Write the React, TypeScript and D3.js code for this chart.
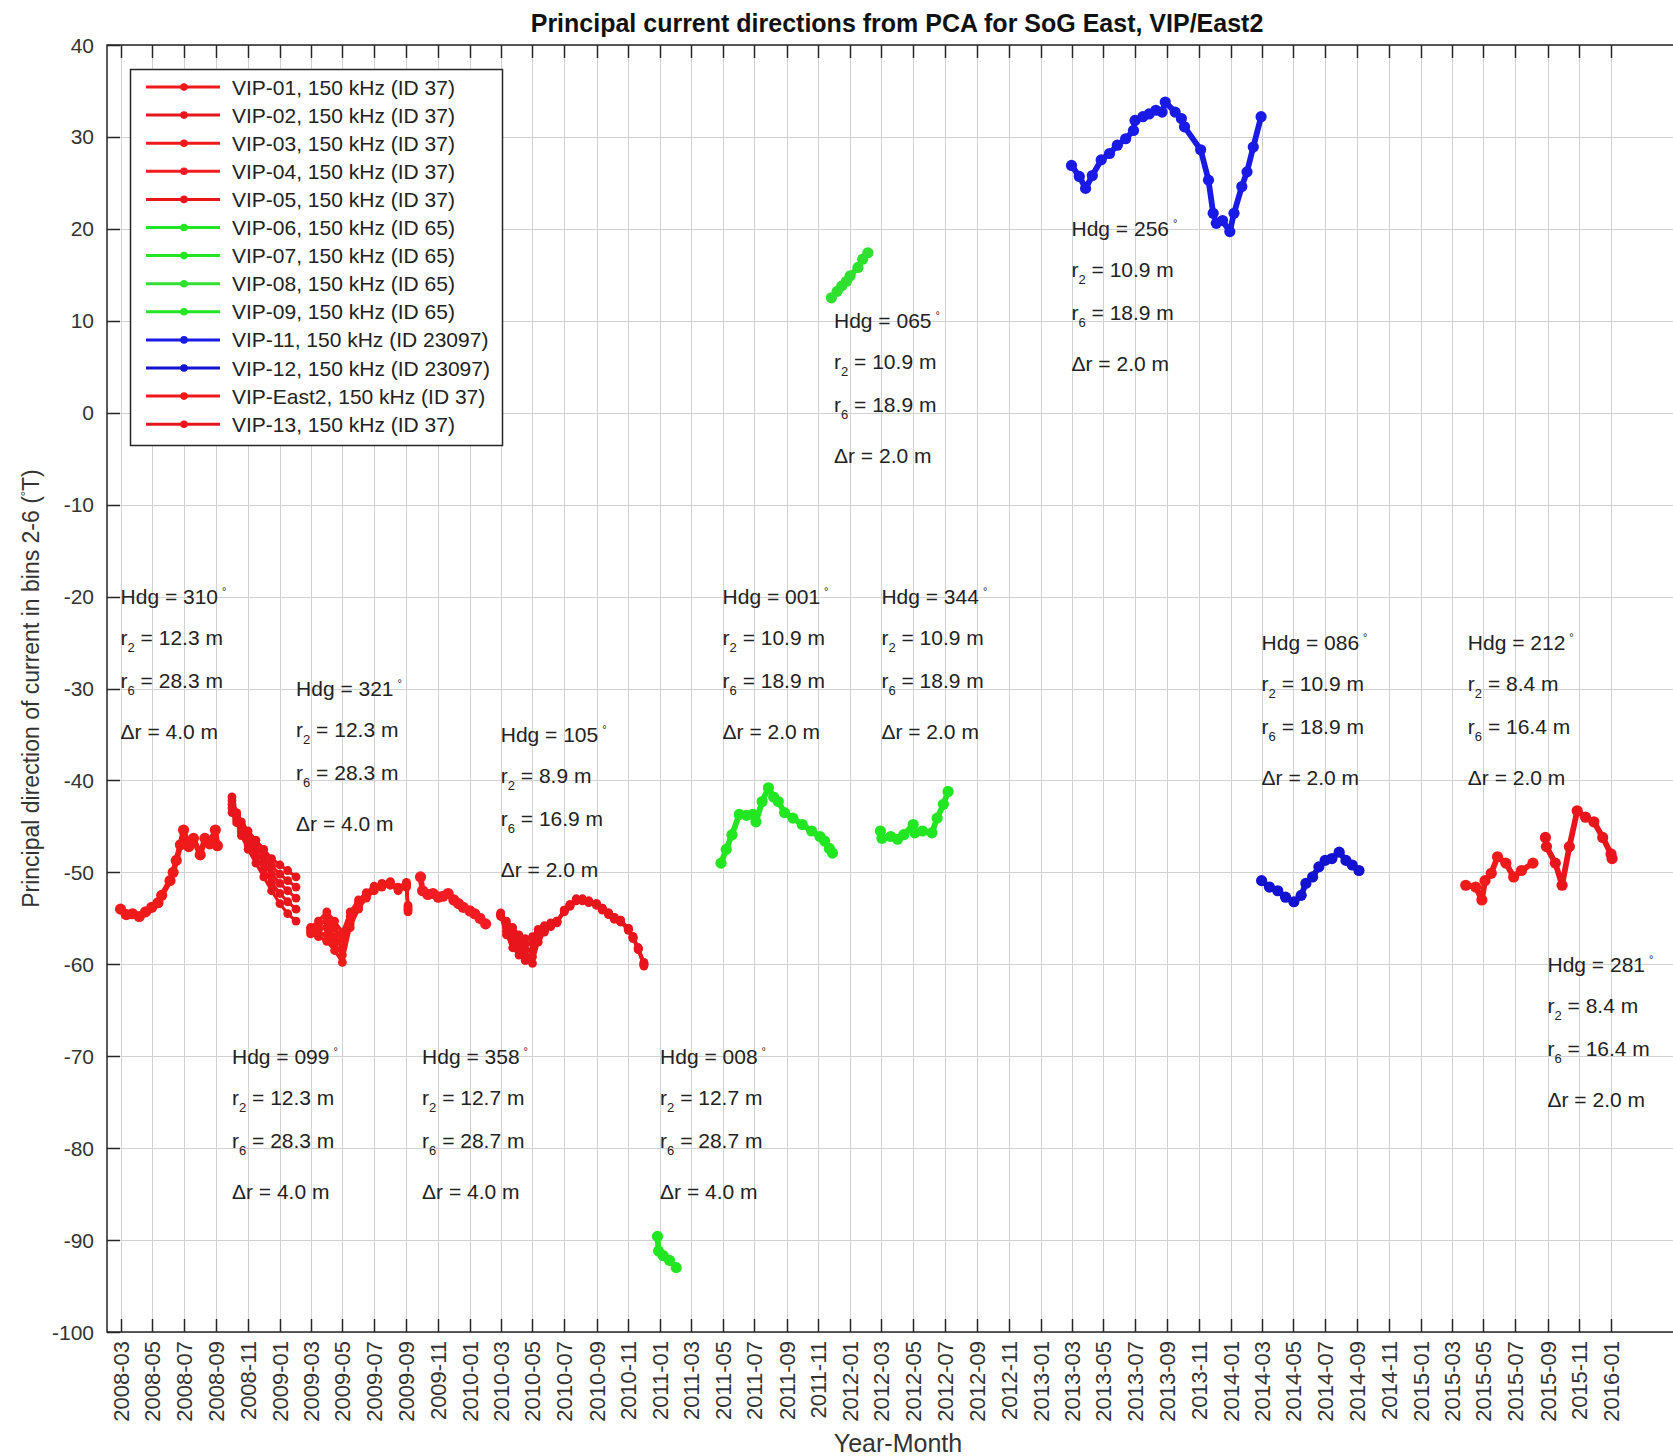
import React, { useEffect, useRef } from "react";
import * as d3 from "d3";

// legend entries, same order as the deployments below
const seriesNames = [
  "VIP-01, 150 kHz (ID 37)",
  "VIP-02, 150 kHz (ID 37)",
  "VIP-03, 150 kHz (ID 37)",
  "VIP-04, 150 kHz (ID 37)",
  "VIP-05, 150 kHz (ID 37)",
  "VIP-06, 150 kHz (ID 65)",
  "VIP-07, 150 kHz (ID 65)",
  "VIP-08, 150 kHz (ID 65)",
  "VIP-09, 150 kHz (ID 65)",
  "VIP-11, 150 kHz (ID 23097)",
  "VIP-12, 150 kHz (ID 23097)",
  "VIP-East2, 150 kHz (ID 37)",
  "VIP-13, 150 kHz (ID 37)",
];
const seriesColors = [
  "#f01a1a", "#e8161c", "#f01a1a", "#f41c22", "#e8161c",
  "#22e622", "#22e622", "#30e030", "#22e622",
  "#1a1ae6", "#1212d0",
  "#f01a1a", "#e8161c",
];

// principal direction (deg T)
const vip01Dates = ["2008-03-01", "2008-03-12", "2008-03-24", "2008-04-06", "2008-04-18", "2008-04-30", "2008-05-12", "2008-05-19", "2008-06-04", "2008-06-10", "2008-06-16", "2008-06-24", "2008-06-30", "2008-07-10", "2008-07-19", "2008-08-01", "2008-08-10", "2008-08-19", "2008-08-30", "2008-09-03"];
const vip01Dir = [-54.0, -54.6, -54.5, -54.8, -54.3, -53.8, -53.3, -52.5, -50.9, -50.0, -48.7, -47.0, -45.4, -47.2, -46.3, -48.1, -46.3, -46.9, -45.4, -47.1];

// VIP-02, -03 and -05: the bins spread apart, one list per bin (2..6)
const vip02Dates = ["2008-10-01", "2008-10-10", "2008-10-19", "2008-11-01", "2008-11-16", "2008-12-01", "2008-12-16", "2009-01-01", "2009-01-16", "2009-02-01"];
const vip02Bin2 = [-41.8, -43.5, -44.5, -45.5, -46.5, -47.5, -48.5, -49.2, -49.8, -50.5];
const vip02Bin3 = [-42.2, -43.7, -44.8, -46.0, -47.1, -48.2, -49.3, -50.2, -50.9, -51.6];
const vip02Bin4 = [-42.6, -44.0, -45.2, -46.5, -47.7, -49.0, -50.2, -51.2, -52.0, -52.8];
const vip02Bin5 = [-43.0, -44.3, -45.6, -47.0, -48.3, -49.7, -51.1, -52.3, -53.2, -54.0];
const vip02Bin6 = [-43.5, -44.6, -46.0, -47.5, -49.0, -50.5, -52.0, -53.4, -54.5, -55.3];

const vip03Dates = ["2009-03-01", "2009-03-16", "2009-04-01", "2009-04-16", "2009-05-01", "2009-05-16", "2009-06-01", "2009-06-16", "2009-07-01", "2009-07-16", "2009-08-01", "2009-08-16", "2009-09-01", "2009-09-04"];
const vip03Bin2 = [-56.0, -55.3, -54.3, -55.3, -56.5, -54.3, -53.0, -52.2, -51.5, -51.2, -51.0, -51.6, -51.1, -53.6];
const vip03Bin3 = [-56.1, -55.8, -55.2, -56.1, -57.3, -54.8, -53.3, -52.4, -51.6, -51.3, -51.1, -51.7, -51.2, -53.8];
const vip03Bin4 = [-56.3, -56.2, -56.0, -57.0, -58.2, -55.2, -53.5, -52.5, -51.7, -51.4, -51.2, -51.8, -51.4, -54.0];
const vip03Bin5 = [-56.5, -56.6, -56.8, -57.8, -59.0, -55.6, -53.8, -52.7, -51.9, -51.5, -51.3, -51.9, -51.5, -54.1];
const vip03Bin6 = [-56.7, -57.0, -57.5, -58.5, -59.8, -56.0, -54.0, -52.8, -52.0, -51.6, -51.4, -52.0, -51.6, -54.3];

const vip04Dates = ["2009-09-28", "2009-10-02", "2009-10-12", "2009-10-22", "2009-11-01", "2009-11-10", "2009-11-20", "2009-12-01", "2009-12-10", "2009-12-19", "2010-01-01", "2010-01-10", "2010-01-20", "2010-01-31"];
const vip04Dir = [-50.5, -52.0, -52.4, -52.3, -52.7, -52.6, -52.3, -53.0, -53.4, -53.8, -54.2, -54.5, -55.0, -55.6];

const vip05Dates = ["2010-03-01", "2010-03-12", "2010-03-24", "2010-04-05", "2010-04-17", "2010-05-01", "2010-05-12", "2010-05-24", "2010-06-05", "2010-06-17", "2010-07-01", "2010-07-12", "2010-07-24", "2010-08-05", "2010-08-17", "2010-09-01", "2010-09-12", "2010-09-24", "2010-10-05", "2010-10-17", "2010-11-01", "2010-11-10", "2010-11-20", "2010-12-01"];
const vip05Bin2 = [-54.4, -55.3, -56.0, -56.8, -57.2, -57.0, -56.2, -55.8, -55.5, -55.3, -54.1, -53.5, -52.9, -52.9, -53.1, -53.4, -53.9, -54.4, -54.9, -55.2, -56.1, -57.0, -58.2, -59.8];
const vip05Bin3 = [-54.5, -55.6, -56.5, -57.3, -57.8, -57.7, -56.5, -56.0, -55.6, -55.3, -54.1, -53.5, -52.9, -52.9, -53.1, -53.4, -53.9, -54.4, -54.9, -55.2, -56.1, -57.0, -58.2, -59.9];
const vip05Bin4 = [-54.6, -56.0, -57.1, -57.9, -58.4, -58.5, -56.9, -56.2, -55.7, -55.4, -54.2, -53.6, -53.0, -53.0, -53.2, -53.5, -54.0, -54.5, -55.0, -55.3, -56.2, -57.1, -58.3, -60.0];
const vip05Bin5 = [-54.7, -56.4, -57.6, -58.5, -59.0, -59.2, -57.2, -56.3, -55.8, -55.4, -54.2, -53.6, -53.0, -53.0, -53.2, -53.5, -54.0, -54.5, -55.0, -55.3, -56.2, -57.1, -58.3, -60.1];
const vip05Bin6 = [-54.8, -56.8, -58.2, -59.0, -59.6, -59.9, -57.6, -56.5, -55.9, -55.5, -54.3, -53.7, -53.1, -53.1, -53.3, -53.6, -54.1, -54.6, -55.1, -55.4, -56.3, -57.2, -58.4, -60.2];

const vip06Dates = ["2010-12-27", "2010-12-29", "2011-01-07", "2011-01-19", "2011-02-01"];
const vip06Dir = [-89.6, -91.2, -91.7, -92.2, -93.0];

const vip07Dates = ["2011-04-28", "2011-05-08", "2011-05-19", "2011-06-02", "2011-06-16", "2011-06-28", "2011-07-04", "2011-07-16", "2011-07-28", "2011-08-07", "2011-08-16", "2011-08-28", "2011-09-13", "2011-10-01", "2011-10-19", "2011-11-04", "2011-11-13", "2011-11-22", "2011-11-28"];
const vip07Dir = [-49.0, -47.5, -45.9, -43.7, -43.8, -43.7, -44.5, -42.3, -40.8, -41.8, -42.3, -43.5, -44.1, -44.8, -45.5, -46.1, -46.6, -47.4, -47.9];

const vip08Dates = ["2011-11-26", "2011-12-07", "2011-12-16", "2011-12-25", "2012-01-01", "2012-01-16", "2012-01-25", "2012-02-04"];
const vip08Dir = [12.5, 13.2, 13.8, 14.3, 14.9, 15.8, 16.7, 17.4];

const vip09Dates = ["2012-02-28", "2012-03-02", "2012-03-19", "2012-04-01", "2012-04-13", "2012-05-01", "2012-05-04", "2012-05-19", "2012-06-06", "2012-06-16", "2012-06-28", "2012-07-07"];
const vip09Dir = [-45.5, -46.3, -46.1, -46.4, -45.9, -44.8, -45.7, -45.5, -45.7, -44.1, -42.6, -41.2];

const vip11Dates = ["2013-03-01", "2013-03-16", "2013-03-28", "2013-04-10", "2013-04-27", "2013-05-13", "2013-05-28", "2013-06-13", "2013-06-28", "2013-07-01", "2013-07-16", "2013-07-28", "2013-08-10", "2013-08-22", "2013-08-28", "2013-09-16", "2013-09-28", "2013-10-04", "2013-11-04", "2013-11-19", "2013-11-28", "2013-12-04", "2013-12-16", "2013-12-30", "2014-01-07", "2014-01-22", "2014-02-01", "2014-02-13", "2014-02-28"];
const vip11Dir = [26.9, 25.7, 24.4, 25.8, 27.5, 28.2, 29.1, 29.8, 30.7, 31.8, 32.2, 32.5, 32.9, 32.7, 33.8, 32.7, 32.0, 31.1, 28.6, 25.3, 21.7, 20.6, 20.9, 19.7, 21.7, 24.6, 26.2, 28.9, 32.2];

const vip12Dates = ["2014-03-01", "2014-03-16", "2014-04-01", "2014-04-16", "2014-05-02", "2014-05-16", "2014-05-25", "2014-06-07", "2014-06-19", "2014-07-01", "2014-07-14", "2014-07-28", "2014-08-10", "2014-08-22", "2014-09-04"];
const vip12Dir = [-50.9, -51.6, -52.0, -52.7, -53.2, -52.5, -51.2, -50.5, -49.4, -48.7, -48.5, -47.8, -48.7, -49.2, -49.8];

const east2Dates = ["2015-03-28", "2015-04-16", "2015-04-28", "2015-05-04", "2015-05-16", "2015-05-28", "2015-06-13", "2015-06-28", "2015-07-13", "2015-08-04"];
const east2Dir = [-51.4, -51.6, -53.0, -50.9, -50.1, -48.3, -49.0, -50.5, -49.8, -49.0];

const vip13Dates = ["2015-08-28", "2015-08-30", "2015-09-16", "2015-09-29", "2015-10-13", "2015-10-28", "2015-11-13", "2015-11-29", "2015-12-16", "2016-01-01", "2016-01-03"];
const vip13Dir = [-46.2, -47.2, -49.0, -51.4, -47.2, -43.3, -44.0, -44.5, -46.2, -48.0, -48.5];

// text notes: position (date, direction) and instrument geometry
const noteDates = ["2008-03-01", "2009-02-01", "2008-10-01", "2010-03-01", "2009-10-01", "2011-01-01", "2011-05-01", "2012-03-01", "2011-12-01", "2013-03-01", "2014-03-01", "2015-04-01", "2015-09-01"];
const noteAt = [-20, -30, -70, -35, -70, -70, -20, -20, 10, 20, -25, -25, -60];
const noteHdg = ["310", "321", "099", "105", "358", "008", "001", "344", "065", "256", "086", "212", "281"];
const noteR2 = ["12.3", "12.3", "12.3", "8.9", "12.7", "12.7", "10.9", "10.9", "10.9", "10.9", "10.9", "8.4", "8.4"];
const noteR6 = ["28.3", "28.3", "28.3", "16.9", "28.7", "28.7", "18.9", "18.9", "18.9", "18.9", "18.9", "16.4", "16.4"];
const noteDr = ["4.0", "4.0", "4.0", "2.0", "4.0", "4.0", "2.0", "2.0", "2.0", "2.0", "2.0", "2.0", "2.0"];

const firstTick = "2008-03-01";
const lastTick = "2016-01-01";
const yTicks = [-100, -90, -80, -70, -60, -50, -40, -30, -20, -10, 0, 10, 20, 30, 40];

const W = 1673;
const H = 1456;
const left = 107;
const top = 45;
const right = 1685; // axes box runs past the right edge of the picture
const bottom = 1332;
const FONT = "'Liberation Sans', Arial, Helvetica, sans-serif";

const parse = d3.utcParse("%Y-%m-%d");

type Deployment = { dates: string[]; bins: number[][] };

const deployments: Deployment[] = [
  { dates: vip01Dates, bins: [vip01Dir] },
  { dates: vip02Dates, bins: [vip02Bin2, vip02Bin3, vip02Bin4, vip02Bin5, vip02Bin6] },
  { dates: vip03Dates, bins: [vip03Bin2, vip03Bin3, vip03Bin4, vip03Bin5, vip03Bin6] },
  { dates: vip04Dates, bins: [vip04Dir] },
  { dates: vip05Dates, bins: [vip05Bin2, vip05Bin3, vip05Bin4, vip05Bin5, vip05Bin6] },
  { dates: vip06Dates, bins: [vip06Dir] },
  { dates: vip07Dates, bins: [vip07Dir] },
  { dates: vip08Dates, bins: [vip08Dir] },
  { dates: vip09Dates, bins: [vip09Dir] },
  { dates: vip11Dates, bins: [vip11Dir] },
  { dates: vip12Dates, bins: [vip12Dir] },
  { dates: east2Dates, bins: [east2Dir] },
  { dates: vip13Dates, bins: [vip13Dir] },
];

const App = () => {
  const svgRef = useRef<SVGSVGElement>(null);

  useEffect(() => {
    const svg = d3.select(svgRef.current);
    svg.selectAll("*").remove();

    const x = d3.scaleUtc()
      .domain([parse("2008-02-04")!, parse("2016-05-22")!])
      .range([left, right]);
    const y = d3.scaleLinear().domain([-100, 40]).range([bottom, top]);

    const xTicks = d3.utcMonth.every(2)!.range(parse(firstTick)!, d3.utcDay.offset(parse(lastTick)!, 1));
    const fmt = d3.utcFormat("%Y-%m");

    svg.append("rect").attr("width", W).attr("height", H).attr("fill", "#fff");

    // grid
    const grid = svg.append("g").attr("stroke", "#d2d2d2").attr("stroke-width", 1);
    grid.selectAll("line.v").data(xTicks).join("line")
      .attr("x1", (d) => Math.round(x(d)) + 0.5).attr("x2", (d) => Math.round(x(d)) + 0.5)
      .attr("y1", top).attr("y2", bottom);
    grid.selectAll("line.h").data(yTicks).join("line")
      .attr("x1", left).attr("x2", right)
      .attr("y1", (d) => Math.round(y(d)) + 0.5).attr("y2", (d) => Math.round(y(d)) + 0.5);

    // axes box + inward ticks
    const ax = svg.append("g").attr("stroke", "#262626").attr("stroke-width", 1.5).attr("fill", "none");
    ax.append("rect").attr("x", left).attr("y", top).attr("width", right - left).attr("height", bottom - top);
    const tk = 13;
    xTicks.forEach((d) => {
      const px = Math.round(x(d)) + 0.5;
      ax.append("line").attr("x1", px).attr("x2", px).attr("y1", bottom).attr("y2", bottom - tk);
      ax.append("line").attr("x1", px).attr("x2", px).attr("y1", top).attr("y2", top + tk);
    });
    yTicks.forEach((d) => {
      const py = Math.round(y(d)) + 0.5;
      ax.append("line").attr("x1", left).attr("x2", left + tk).attr("y1", py).attr("y2", py);
    });

    // tick labels
    const lab = svg.append("g").attr("font-family", FONT).attr("fill", "#333");
    lab.selectAll("text.y").data(yTicks).join("text")
      .attr("x", left - 13).attr("y", (d) => y(d) + 7.5)
      .attr("text-anchor", "end").attr("font-size", 21)
      .text((d) => String(d));
    lab.selectAll("text.x").data(xTicks).join("text")
      .attr("transform", (d) => `translate(${x(d) + 8},${bottom + 9}) rotate(-90)`)
      .attr("text-anchor", "end").attr("font-size", 22)
      .text((d) => fmt(d));

    // axis titles
    svg.append("text")
      .attr("x", 897).attr("y", 32).attr("text-anchor", "middle")
      .attr("font-family", FONT).attr("font-weight", "bold").attr("font-size", 25).attr("fill", "#111")
      .text("Principal current directions from PCA for SoG East, VIP/East2");
    svg.append("text")
      .attr("x", 898).attr("y", 1452).attr("text-anchor", "middle")
      .attr("font-family", FONT).attr("font-size", 25).attr("fill", "#333")
      .text("Year-Month");
    const yl = svg.append("text")
      .attr("transform", `translate(39,${(top + bottom) / 2}) rotate(-90)`)
      .attr("text-anchor", "middle")
      .attr("font-family", FONT).attr("font-size", 23).attr("fill", "#333");
    yl.append("tspan").text("Principal direction of current in bins 2-6 (");
    yl.append("tspan").attr("dy", -9).attr("font-size", 13).text("\u00b0");
    yl.append("tspan").attr("dy", 9).text("T)");

    // series
    const line = d3.line<[Date, number]>().x((d) => x(d[0])).y((d) => y(d[1]));
    const plot = svg.append("g");
    deployments.forEach((dep, i) => {
      const color = seriesColors[i];
      const multi = dep.bins.length > 1;
      dep.bins.forEach((vals) => {
        const pts: [Date, number][] = dep.dates.map((s, k) => [parse(s)!, vals[k]]);
        plot.append("path").datum(pts)
          .attr("d", line).attr("fill", "none")
          .attr("stroke", color).attr("stroke-width", multi ? 3.2 : 5.8)
          .attr("stroke-linejoin", "round").attr("stroke-linecap", "round");
        plot.append("g").selectAll("circle").data(pts).join("circle")
          .attr("cx", (d) => x(d[0])).attr("cy", (d) => y(d[1]))
          .attr("r", multi ? 4.4 : 5.6).attr("fill", color);
      });
    });

    // notes
    const notes = svg.append("g").attr("font-family", FONT).attr("font-size", 21).attr("fill", "#222");
    const rowOff = [0, 41, 84, 135];
    noteDates.forEach((s, i) => {
      const x0 = x(parse(s)!);
      const y0 = y(noteAt[i]) + 7.5;
      const t1 = notes.append("text").attr("x", x0).attr("y", y0);
      t1.append("tspan").text(`Hdg = ${noteHdg[i]}`);
      t1.append("tspan").attr("dx", 4).attr("dy", -9).attr("font-size", 11).text("\u00b0");
      const sub = (row: number, subTxt: string, val: string) => {
        const t = notes.append("text").attr("x", x0).attr("y", y0 + rowOff[row]);
        t.append("tspan").text("r");
        t.append("tspan").attr("dy", 7).attr("font-size", 13).text(subTxt);
        t.append("tspan").attr("dy", -7).text(` = ${val} m`);
      };
      sub(1, "2", noteR2[i]);
      sub(2, "6", noteR6[i]);
      notes.append("text").attr("x", x0).attr("y", y0 + rowOff[3]).text(`\u0394r = ${noteDr[i]} m`);
    });

    // legend
    const lg = svg.append("g").attr("font-family", FONT);
    lg.append("rect").attr("x", 130.5).attr("y", 69.5).attr("width", 372).attr("height", 376)
      .attr("fill", "#fff").attr("stroke", "#262626").attr("stroke-width", 1.5);
    seriesNames.forEach((name, i) => {
      const ly = 87 + i * 28.1;
      lg.append("line").attr("x1", 146).attr("x2", 220).attr("y1", ly).attr("y2", ly)
        .attr("stroke", seriesColors[i]).attr("stroke-width", 3);
      lg.append("circle").attr("cx", 184).attr("cy", ly).attr("r", 3.8).attr("fill", seriesColors[i]);
      lg.append("text").attr("x", 232).attr("y", ly + 7.5).attr("font-size", 21).attr("fill", "#222").text(name);
    });
  }, []);

  return (
    <svg
      ref={svgRef}
      width={W}
      height={H}
      style={{ position: "absolute", left: 0, top: 0, display: "block" }}
    ></svg>
  );
};

export default App;
